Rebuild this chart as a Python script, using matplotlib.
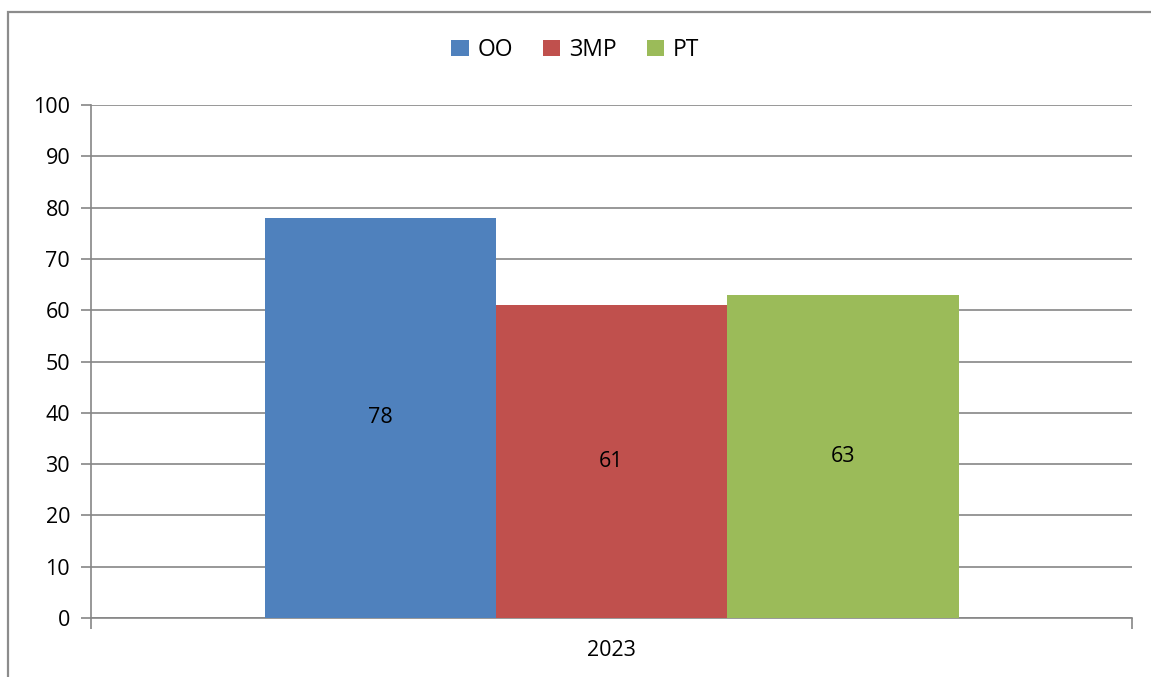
import matplotlib.pyplot as plt
from matplotlib.patches import Rectangle

plt.rcParams['font.family'] = ['Open Sans', 'DejaVu Sans']

# данные
years = ['2023']
series = ['ОО', 'ЗМР', 'РТ']
values = [78, 61, 63]
colors = ['#4F81BD', '#C0504D', '#9BBB59']

W, H = 1151, 677
fig = plt.figure(figsize=(W / 100, H / 100), dpi=100)

# рамка диаграммы (обрезана справа и снизу)
fig.patches.append(Rectangle((8 / W, -0.2), 1.2, 1.2 - 12 / H, transform=fig.transFigure,
                             fill=False, edgecolor='#8C8C8C', linewidth=1.6, zorder=0))

ax = fig.add_axes([91 / W, 1 - 618 / H, (1132 - 91) / W, (618 - 105) / H])

bar_w = 1 / 4.5
for i, (name, val, col) in enumerate(zip(series, values, colors)):
    x = (i - 1) * bar_w
    ax.bar(x, val, width=bar_w, color=col, label=name, zorder=3)
    ax.text(x, val / 2, str(val), ha='center', va='center', fontsize=15.5, zorder=4)

ax.set_xlim(-0.5, 0.5)
ax.set_ylim(0, 100)
ax.set_yticks(range(0, 101, 10))
ax.set_xticks([-0.5, 0.5])
ax.set_xticklabels(['', ''])
ax.text(0, -0.042, years[0], transform=ax.get_xaxis_transform(), ha='center', va='top', fontsize=15.5)
ax.tick_params(axis='y', labelsize=15.5, length=7, width=1.2, color='#868686', pad=8)
ax.tick_params(axis='x', length=8, width=1.2, color='#868686')
ax.grid(axis='y', color='#868686', linewidth=1.2, zorder=0)

for s in ['top', 'right']:
    ax.spines[s].set_visible(False)
for s in ['left', 'bottom']:
    ax.spines[s].set_color('#868686')
    ax.spines[s].set_linewidth(1.2)

fig.legend(loc='center', bbox_to_anchor=(0.5, 1 - 50 / H), ncol=3, frameon=False,
           fontsize=16.5, handlelength=0.75, handleheight=0.75, handletextpad=0.4, columnspacing=1.3)

fig.savefig('out.png', dpi=100)
